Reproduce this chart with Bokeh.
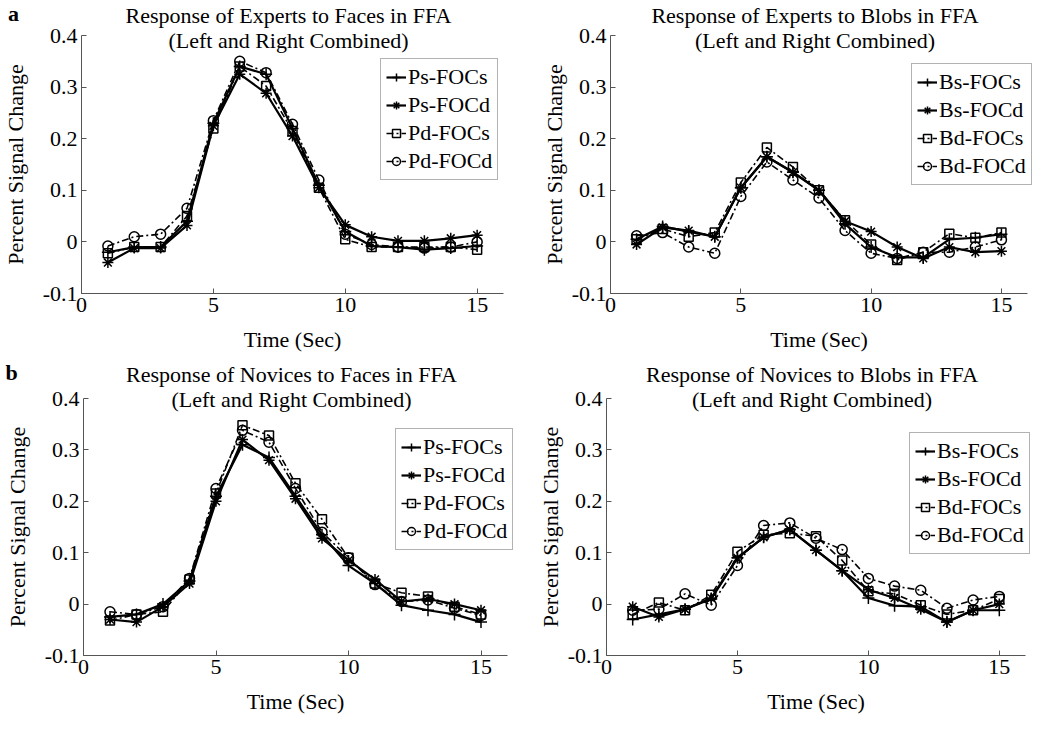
from bokeh.plotting import figure
from bokeh.layouts import row, column
from bokeh.models import Label, FixedTicker, Range1d, Legend, LegendItem
from bokeh.embed import file_html
from bokeh.resources import INLINE

time = list(range(1, 16))

# Panel a (left): Experts, Faces
exp_face_labels = ["Ps-FOCs", "Ps-FOCd", "Pd-FOCs", "Pd-FOCd"]
exp_face_ps_focs = [-0.020, -0.010, -0.010, 0.040, 0.230, 0.340, 0.325, 0.220, 0.110, 0.020, -0.008, -0.010, -0.015, -0.012, -0.008]
exp_face_ps_focd = [-0.040, -0.012, -0.012, 0.032, 0.225, 0.325, 0.288, 0.205, 0.105, 0.033, 0.010, 0.002, 0.002, 0.007, 0.013]
exp_face_pd_focs = [-0.022, -0.010, -0.010, 0.050, 0.220, 0.340, 0.302, 0.215, 0.105, 0.005, -0.010, -0.010, -0.010, -0.010, -0.015]
exp_face_pd_focd = [-0.008, 0.010, 0.015, 0.065, 0.235, 0.350, 0.328, 0.228, 0.120, 0.015, -0.005, -0.010, -0.012, -0.010, 0.000]

# Panel a (right): Experts, Blobs
exp_blob_labels = ["Bs-FOCs", "Bs-FOCd", "Bd-FOCs", "Bd-FOCd"]
exp_blob_bs_focs = [0.005, 0.030, 0.020, 0.010, 0.105, 0.165, 0.135, 0.100, 0.035, -0.010, -0.030, -0.030, 0.005, 0.008, 0.015]
exp_blob_bs_focd = [-0.005, 0.028, 0.022, 0.010, 0.105, 0.165, 0.135, 0.100, 0.040, 0.020, -0.010, -0.032, -0.010, -0.020, -0.018]
exp_blob_bd_focs = [0.005, 0.025, 0.010, 0.018, 0.115, 0.183, 0.145, 0.100, 0.042, -0.005, -0.035, -0.020, 0.016, 0.008, 0.018]
exp_blob_bd_focd = [0.012, 0.018, -0.010, -0.022, 0.088, 0.155, 0.120, 0.085, 0.022, -0.022, -0.032, -0.020, -0.020, -0.010, 0.004]

# Panel b (left): Novices, Faces
nov_face_labels = ["Ps-FOCs", "Ps-FOCd", "Pd-FOCs", "Pd-FOCd"]
nov_face_ps_focs = [-0.025, -0.020, 0.000, 0.045, 0.210, 0.310, 0.285, 0.210, 0.135, 0.075, 0.040, -0.002, -0.012, -0.020, -0.035]
nov_face_ps_focd = [-0.030, -0.035, -0.005, 0.040, 0.200, 0.320, 0.280, 0.205, 0.128, 0.085, 0.048, 0.005, 0.010, 0.000, -0.012]
nov_face_pd_focs = [-0.032, -0.020, -0.015, 0.048, 0.215, 0.348, 0.328, 0.235, 0.165, 0.090, 0.040, 0.022, 0.015, -0.005, -0.020]
nov_face_pd_focd = [-0.015, -0.020, -0.005, 0.050, 0.225, 0.338, 0.315, 0.225, 0.140, 0.090, 0.038, 0.005, 0.008, -0.008, -0.022]

# Panel b (right): Novices, Blobs
nov_blob_labels = ["Bs-FOCs", "Bs-FOCd", "Bd-FOCs", "Bd-FOCd"]
nov_blob_bs_focs = [-0.030, -0.020, -0.010, 0.010, 0.090, 0.130, 0.145, 0.105, 0.065, 0.012, -0.003, -0.005, -0.035, -0.012, -0.012]
nov_blob_bs_focd = [-0.005, -0.025, -0.010, 0.012, 0.090, 0.130, 0.145, 0.105, 0.065, 0.028, 0.012, -0.010, -0.035, -0.012, 0.000]
nov_blob_bd_focs = [-0.020, 0.003, -0.012, 0.018, 0.102, 0.135, 0.138, 0.132, 0.085, 0.025, 0.020, -0.002, -0.020, -0.012, 0.010]
nov_blob_bd_focd = [-0.012, -0.010, 0.020, -0.002, 0.075, 0.153, 0.158, 0.128, 0.106, 0.050, 0.035, 0.027, -0.008, 0.008, 0.015]

x_ticks = [0, 5, 10, 15]
y_ticks = [-0.1, 0, 0.1, 0.2, 0.3, 0.4]
y_tick_labels = ["-0.1", "0", "0.1", "0.2", "0.3", "0.4"]
X_MIN, X_MAX = 0, 16
Y_MIN, Y_MAX = -0.1, 0.4

FONT = "Liberation Serif"
AXIS_COLOR = "#555555"

STYLES = [
    dict(dash="solid", marker="cross", size=12, lw=2.2),
    dict(dash="solid", marker="asterisk", size=11, lw=2.2),
    dict(dash="7 3 2 3", marker="square", size=9, lw=1.6),
    dict(dash="7 3 2 3", marker="circle", size=10, lw=1.6),
]


def make_panel(title, labels, series, geom, ylab_standoff, title_px, letter=None):
    # geom: figure position/size on page and where the axes' ends fall on the page
    fx, fy, width, height, x0p, x1p, ytp, ybp = geom
    sx = (x1p - x0p) / (X_MAX - X_MIN)
    sy = (ybp - ytp) / (Y_MAX - Y_MIN)
    xr = Range1d(X_MIN - (x0p - fx) / sx, X_MAX + (fx + width - x1p) / sx)
    yr = Range1d(Y_MIN - (fy + height - ybp) / sy, Y_MAX + (ytp - fy) / sy)

    def to_data(px, py):
        return X_MIN + (px - x0p) / sx, Y_MAX - (py - ytp) / sy

    p = figure(width=width, height=height, x_range=xr, y_range=yr,
               output_backend="svg", toolbar_location=None,
               min_border=0, min_border_left=0, min_border_right=0,
               min_border_top=0, min_border_bottom=0,
               x_axis_label="Time (Sec)", y_axis_label="Percent Signal Change")
    p.title.visible = False
    p.outline_line_color = None
    p.xgrid.visible = False
    p.ygrid.visible = False
    p.background_fill_color = "white"
    p.border_fill_color = "white"

    p.xaxis.fixed_location = Y_MIN
    p.yaxis.fixed_location = X_MIN
    p.xaxis.bounds = (X_MIN, X_MAX)
    p.yaxis.bounds = (Y_MIN, Y_MAX)
    p.xaxis.ticker = FixedTicker(ticks=x_ticks)
    p.yaxis.ticker = FixedTicker(ticks=y_ticks)
    p.yaxis.major_label_overrides = {t: s for t, s in zip(y_ticks, y_tick_labels)}
    for ax in (p.xaxis[0], p.yaxis[0]):
        ax.axis_line_color = AXIS_COLOR
        ax.axis_line_width = 1
        ax.major_tick_line_color = AXIS_COLOR
        ax.major_tick_in = 5
        ax.major_tick_out = 0
        ax.minor_tick_line_color = None
        ax.major_label_text_font = FONT
        ax.major_label_text_font_size = "22px"
        ax.major_label_text_color = "black"
        ax.axis_label_text_font = FONT
        ax.axis_label_text_font_size = "22px"
        ax.axis_label_text_font_style = "normal"
        ax.axis_label_text_color = "black"
    p.xaxis.major_label_standoff = 4
    p.xaxis.axis_label_standoff = 12
    p.yaxis.major_label_standoff = 4
    p.yaxis.axis_label_standoff = ylab_standoff

    items = []
    for name, vals, st in zip(labels, series, STYLES):
        rl = p.line(time, vals, line_color="black", line_width=st["lw"], line_dash=st["dash"])
        rm = p.scatter(time, vals, marker=st["marker"], size=st["size"], line_color="black",
                       fill_color=None, line_width=1.5)
        items.append(LegendItem(label=name, renderers=[rl, rm]))

    leg_left, leg_bottom = title_px["legend"]
    legend = Legend(items=items, location=(leg_left - fx, fy + height - leg_bottom))
    legend.label_text_font = FONT
    legend.label_text_font_size = "22px"
    legend.label_text_color = "black"
    legend.border_line_color = "#666666"
    legend.border_line_width = 1
    legend.background_fill_color = "white"
    legend.background_fill_alpha = 1
    legend.padding = 5
    legend.spacing = 2
    legend.margin = 0
    legend.glyph_width = 20
    legend.glyph_height = 22
    legend.label_standoff = 2
    legend.label_height = 22
    p.add_layout(legend)

    cx = (x0p + x1p) / 2.0 - 4
    x, y = to_data(cx, title_px["line1"])
    p.add_layout(Label(x=x, y=y, text=title, text_align="center", text_baseline="middle",
                       text_font=FONT, text_font_size="22px", text_color="black"))
    x, y = to_data(cx, title_px["line2"])
    p.add_layout(Label(x=x, y=y, text="(Left and Right Combined)", text_align="center",
                       text_baseline="middle", text_font=FONT, text_font_size="22px",
                       text_color="black"))
    if letter:
        x, y = to_data(*title_px["letter"])
        p.add_layout(Label(x=x, y=y, text=letter, text_align="center", text_baseline="middle",
                           text_font=FONT, text_font_size="22px", text_font_style="bold",
                           text_color="black"))
    return p


p1 = make_panel("Response of Experts to Faces in FFA", exp_face_labels,
                [exp_face_ps_focs, exp_face_ps_focd, exp_face_pd_focs, exp_face_pd_focd],
                (0, 0, 530, 358, 81, 503, 35, 293), 12,
                {"line1": 15, "line2": 40, "letter": (13, 13), "legend": (380, 180)}, "a")
p2 = make_panel("Response of Experts to Blobs in FFA", exp_blob_labels,
                [exp_blob_bs_focs, exp_blob_bs_focd, exp_blob_bd_focs, exp_blob_bd_focd],
                (530, 0, 520, 358, 610, 1027, 35, 293), 2,
                {"line1": 15, "line2": 40, "legend": (911, 185)})
p3 = make_panel("Response of Novices to Faces in FFA", nov_face_labels,
                [nov_face_ps_focs, nov_face_ps_focd, nov_face_pd_focs, nov_face_pd_focd],
                (0, 358, 530, 373, 83, 507, 398, 655), 12,
                {"line1": 374, "line2": 399, "letter": (11, 372), "legend": (395, 550)}, "b")
p4 = make_panel("Response of Novices to Blobs in FFA", nov_blob_labels,
                [nov_blob_bs_focs, nov_blob_bs_focd, nov_blob_bd_focs, nov_blob_bd_focd],
                (530, 358, 520, 373, 606, 1025, 398, 655), 2,
                {"line1": 374, "line2": 399, "legend": (909, 554)})

layout = column(row(p1, p2), row(p3, p4))

open("out.html", "w").write(file_html(layout, INLINE))
